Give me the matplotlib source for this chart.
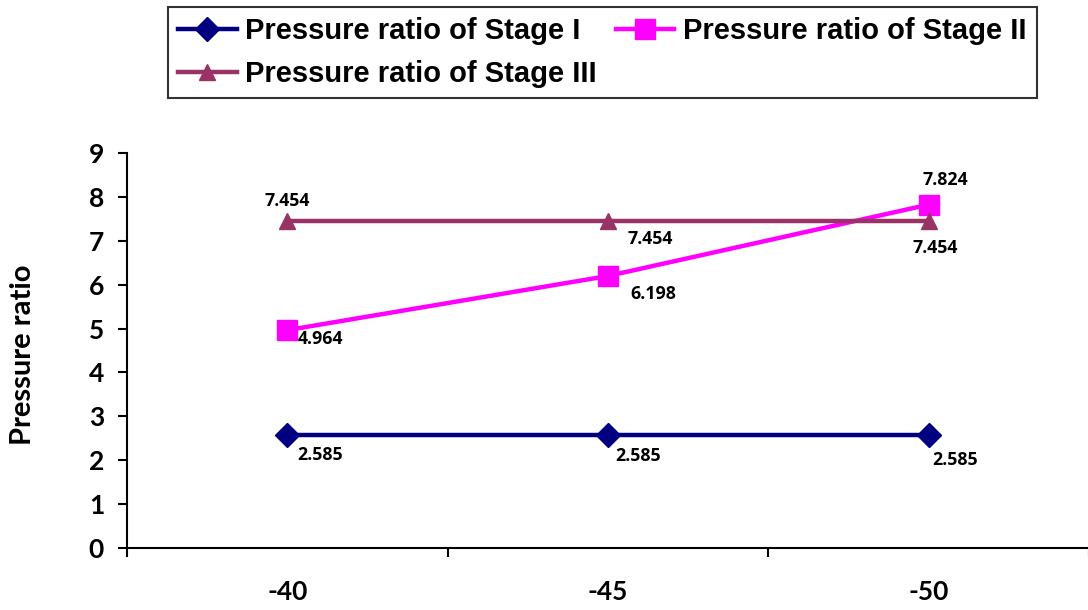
import matplotlib
matplotlib.use("Agg")
import matplotlib.pyplot as plt

plt.rcParams["font.family"] = ["Lato", "DejaVu Sans"]
plt.rcParams["font.weight"] = "bold"

categories = ["-40", "-45", "-50"]
stage1 = [2.585, 2.585, 2.585]
stage2 = [4.964, 6.198, 7.824]
stage3 = [7.454, 7.454, 7.454]
names = ["Pressure ratio of Stage I", "Pressure ratio of Stage II", "Pressure ratio of Stage III"]

fig = plt.figure(figsize=(10.88, 6.10), dpi=100)
ax = fig.add_axes([127 / 1088, 1 - 548 / 610, 962 / 1088, 395 / 610])

x = range(len(categories))
h1, = ax.plot(x, stage1, color="#000080", lw=3.2, marker="D", ms=12.5, label=names[0])
h2, = ax.plot(x, stage2, color="#FF00FF", lw=3.2, marker="s", ms=14.5, label=names[1])
h3, = ax.plot(x, stage3, color="#993366", lw=3.2, marker="^", ms=12, label=names[2])

# label offsets in pixels (dx, dy) relative to each point, text left-aligned
offs = {
    0: [(10, -20), (7, -21), (4, -25)],
    1: [(10, -9), (22, -18), (-6, 25)],
    2: [(-23, 20), (19, -18), (-16, -27)],
}
for k, ys in enumerate([stage1, stage2, stage3]):
    for i, v in enumerate(ys):
        ax.annotate("{:.3f}".format(v), (i, v), xytext=offs[k][i], textcoords="offset pixels",
                    ha="left", va="center", fontsize=12.8, fontweight="bold", family="Open Sans")

ax.set_xlim(-0.5, 2.5)
ax.set_ylim(0, 9)
ax.set_yticks(range(10))
ax.set_xticks(list(x))
ax.set_xticklabels(categories)
ax.set_xticks([-0.5, 0.5, 1.5, 2.5], minor=True)
ax.tick_params(axis="x", which="major", length=0, pad=23, labelsize=19)
ax.tick_params(axis="x", which="minor", length=6.5, width=1.5, direction="out")
ax.tick_params(axis="y", length=6.5, width=1.5, direction="out", pad=10, labelsize=19)

ax.spines["top"].set_visible(False)
ax.spines["right"].set_visible(False)
ax.spines["left"].set_linewidth(1.5)
ax.spines["bottom"].set_linewidth(1.5)

ax.set_ylabel("Pressure ratio", fontsize=21, fontweight="bold")
ax.yaxis.set_label_coords(-0.095, 0.49)

leg = fig.legend([h1, h3, h2], [names[0], names[2], names[1]], ncol=2,
                 loc="upper left", bbox_to_anchor=(168 / 1088, 1 - 7 / 610),
                 prop={"family": "Liberation Sans", "weight": "bold", "size": 21},
                 frameon=True, fancybox=False, edgecolor="black", borderaxespad=0,
                 handlelength=2.0, columnspacing=0.65, handletextpad=0.3, labelspacing=0.5,
                 borderpad=0.35)
leg.get_frame().set_linewidth(1.5)

fig.savefig("out.png", dpi=100)
